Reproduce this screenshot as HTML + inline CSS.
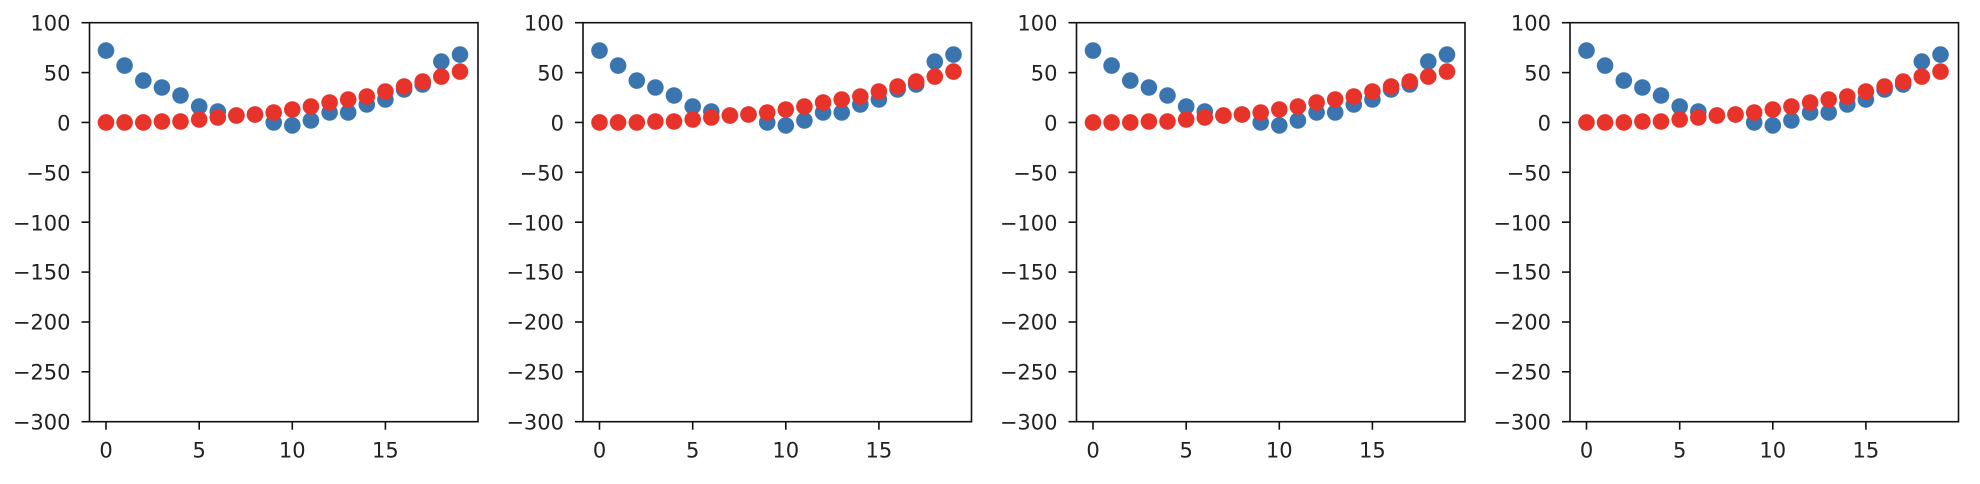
<!DOCTYPE html>
<html><head><meta charset="utf-8"><style>
html,body{margin:0;padding:0;background:#fff;}
svg{display:block;}
text{font-family:"DejaVu Sans","Liberation Sans",sans-serif;font-size:21px;fill:#222;}
.b{fill:#3a75b0;}
.r{fill:#e8332a;}
</style></head><body>
<svg width="1980" height="484" viewBox="0 0 1980 484" xmlns="http://www.w3.org/2000/svg">
<g transform="translate(89.5,22.7)">
<rect x="0" y="0" width="388.5" height="399" fill="none" stroke="#111" stroke-width="1.6"/>
<g stroke="#111" stroke-width="1.6">
<line x1="-8" y1="0" x2="0" y2="0"/><line x1="-8" y1="49.9" x2="0" y2="49.9"/><line x1="-8" y1="99.75" x2="0" y2="99.75"/><line x1="-8" y1="149.6" x2="0" y2="149.6"/><line x1="-8" y1="199.5" x2="0" y2="199.5"/><line x1="-8" y1="249.4" x2="0" y2="249.4"/><line x1="-8" y1="299.3" x2="0" y2="299.3"/><line x1="-8" y1="349.1" x2="0" y2="349.1"/><line x1="-8" y1="399" x2="0" y2="399"/>
<line x1="16.5" y1="399" x2="16.5" y2="407"/><line x1="109.7" y1="399" x2="109.7" y2="407"/><line x1="202.8" y1="399" x2="202.8" y2="407"/><line x1="295.9" y1="399" x2="295.9" y2="407"/>
</g>
<g text-anchor="end">
<text x="-19" y="8">100</text><text x="-19" y="58">50</text><text x="-19" y="108">0</text><text x="-19" y="158">−50</text><text x="-19" y="208">−100</text><text x="-19" y="257">−150</text><text x="-19" y="307">−200</text><text x="-19" y="357">−250</text><text x="-19" y="407">−300</text>
</g>
<g text-anchor="middle">
<text x="16.5" y="435">0</text><text x="109.7" y="435">5</text><text x="202.8" y="435">10</text><text x="295.9" y="435">15</text>
</g>
<g class="b">
<circle cx="16.5" cy="27.9" r="8.3"/><circle cx="35.1" cy="42.9" r="8.3"/><circle cx="53.8" cy="57.9" r="8.3"/><circle cx="72.4" cy="64.8" r="8.3"/><circle cx="91.0" cy="72.8" r="8.3"/><circle cx="109.7" cy="83.8" r="8.3"/><circle cx="128.3" cy="88.8" r="8.3"/><circle cx="146.9" cy="92.8" r="8.3"/><circle cx="165.5" cy="91.8" r="8.3"/><circle cx="184.2" cy="99.75" r="8.3"/><circle cx="202.8" cy="102.7" r="8.3"/><circle cx="221.4" cy="97.8" r="8.3"/><circle cx="240.1" cy="89.8" r="8.3"/><circle cx="258.7" cy="89.8" r="8.3"/><circle cx="277.3" cy="81.8" r="8.3"/><circle cx="295.9" cy="76.8" r="8.3"/><circle cx="314.6" cy="66.8" r="8.3"/><circle cx="333.2" cy="61.8" r="8.3"/><circle cx="351.8" cy="38.9" r="8.3"/><circle cx="370.5" cy="31.9" r="8.3"/>
</g>
<g class="r">
<circle cx="16.5" cy="99.75" r="8.3"/><circle cx="35.1" cy="99.75" r="8.3"/><circle cx="53.8" cy="99.75" r="8.3"/><circle cx="72.4" cy="98.8" r="8.3"/><circle cx="91.0" cy="98.8" r="8.3"/><circle cx="109.7" cy="96.8" r="8.3"/><circle cx="128.3" cy="94.8" r="8.3"/><circle cx="146.9" cy="92.8" r="8.3"/><circle cx="165.5" cy="91.8" r="8.3"/><circle cx="184.2" cy="89.8" r="8.3"/><circle cx="202.8" cy="86.8" r="8.3"/><circle cx="221.4" cy="83.8" r="8.3"/><circle cx="240.1" cy="79.8" r="8.3"/><circle cx="258.7" cy="76.8" r="8.3"/><circle cx="277.3" cy="73.8" r="8.3"/><circle cx="295.9" cy="68.8" r="8.3"/><circle cx="314.6" cy="63.8" r="8.3"/><circle cx="333.2" cy="58.9" r="8.3"/><circle cx="351.8" cy="53.9" r="8.3"/><circle cx="370.5" cy="48.9" r="8.3"/>
</g>
</g>
<g transform="translate(583,22.7)">
<rect x="0" y="0" width="388.5" height="399" fill="none" stroke="#111" stroke-width="1.6"/>
<g stroke="#111" stroke-width="1.6">
<line x1="-8" y1="0" x2="0" y2="0"/><line x1="-8" y1="49.9" x2="0" y2="49.9"/><line x1="-8" y1="99.75" x2="0" y2="99.75"/><line x1="-8" y1="149.6" x2="0" y2="149.6"/><line x1="-8" y1="199.5" x2="0" y2="199.5"/><line x1="-8" y1="249.4" x2="0" y2="249.4"/><line x1="-8" y1="299.3" x2="0" y2="299.3"/><line x1="-8" y1="349.1" x2="0" y2="349.1"/><line x1="-8" y1="399" x2="0" y2="399"/>
<line x1="16.5" y1="399" x2="16.5" y2="407"/><line x1="109.7" y1="399" x2="109.7" y2="407"/><line x1="202.8" y1="399" x2="202.8" y2="407"/><line x1="295.9" y1="399" x2="295.9" y2="407"/>
</g>
<g text-anchor="end">
<text x="-19" y="8">100</text><text x="-19" y="58">50</text><text x="-19" y="108">0</text><text x="-19" y="158">−50</text><text x="-19" y="208">−100</text><text x="-19" y="257">−150</text><text x="-19" y="307">−200</text><text x="-19" y="357">−250</text><text x="-19" y="407">−300</text>
</g>
<g text-anchor="middle">
<text x="16.5" y="435">0</text><text x="109.7" y="435">5</text><text x="202.8" y="435">10</text><text x="295.9" y="435">15</text>
</g>
<g class="b">
<circle cx="16.5" cy="27.9" r="8.3"/><circle cx="35.1" cy="42.9" r="8.3"/><circle cx="53.8" cy="57.9" r="8.3"/><circle cx="72.4" cy="64.8" r="8.3"/><circle cx="91.0" cy="72.8" r="8.3"/><circle cx="109.7" cy="83.8" r="8.3"/><circle cx="128.3" cy="88.8" r="8.3"/><circle cx="146.9" cy="92.8" r="8.3"/><circle cx="165.5" cy="91.8" r="8.3"/><circle cx="184.2" cy="99.75" r="8.3"/><circle cx="202.8" cy="102.7" r="8.3"/><circle cx="221.4" cy="97.8" r="8.3"/><circle cx="240.1" cy="89.8" r="8.3"/><circle cx="258.7" cy="89.8" r="8.3"/><circle cx="277.3" cy="81.8" r="8.3"/><circle cx="295.9" cy="76.8" r="8.3"/><circle cx="314.6" cy="66.8" r="8.3"/><circle cx="333.2" cy="61.8" r="8.3"/><circle cx="351.8" cy="38.9" r="8.3"/><circle cx="370.5" cy="31.9" r="8.3"/>
</g>
<g class="r">
<circle cx="16.5" cy="99.75" r="8.3"/><circle cx="35.1" cy="99.75" r="8.3"/><circle cx="53.8" cy="99.75" r="8.3"/><circle cx="72.4" cy="98.8" r="8.3"/><circle cx="91.0" cy="98.8" r="8.3"/><circle cx="109.7" cy="96.8" r="8.3"/><circle cx="128.3" cy="94.8" r="8.3"/><circle cx="146.9" cy="92.8" r="8.3"/><circle cx="165.5" cy="91.8" r="8.3"/><circle cx="184.2" cy="89.8" r="8.3"/><circle cx="202.8" cy="86.8" r="8.3"/><circle cx="221.4" cy="83.8" r="8.3"/><circle cx="240.1" cy="79.8" r="8.3"/><circle cx="258.7" cy="76.8" r="8.3"/><circle cx="277.3" cy="73.8" r="8.3"/><circle cx="295.9" cy="68.8" r="8.3"/><circle cx="314.6" cy="63.8" r="8.3"/><circle cx="333.2" cy="58.9" r="8.3"/><circle cx="351.8" cy="53.9" r="8.3"/><circle cx="370.5" cy="48.9" r="8.3"/>
</g>
</g>
<g transform="translate(1076.5,22.7)">
<rect x="0" y="0" width="388.5" height="399" fill="none" stroke="#111" stroke-width="1.6"/>
<g stroke="#111" stroke-width="1.6">
<line x1="-8" y1="0" x2="0" y2="0"/><line x1="-8" y1="49.9" x2="0" y2="49.9"/><line x1="-8" y1="99.75" x2="0" y2="99.75"/><line x1="-8" y1="149.6" x2="0" y2="149.6"/><line x1="-8" y1="199.5" x2="0" y2="199.5"/><line x1="-8" y1="249.4" x2="0" y2="249.4"/><line x1="-8" y1="299.3" x2="0" y2="299.3"/><line x1="-8" y1="349.1" x2="0" y2="349.1"/><line x1="-8" y1="399" x2="0" y2="399"/>
<line x1="16.5" y1="399" x2="16.5" y2="407"/><line x1="109.7" y1="399" x2="109.7" y2="407"/><line x1="202.8" y1="399" x2="202.8" y2="407"/><line x1="295.9" y1="399" x2="295.9" y2="407"/>
</g>
<g text-anchor="end">
<text x="-19" y="8">100</text><text x="-19" y="58">50</text><text x="-19" y="108">0</text><text x="-19" y="158">−50</text><text x="-19" y="208">−100</text><text x="-19" y="257">−150</text><text x="-19" y="307">−200</text><text x="-19" y="357">−250</text><text x="-19" y="407">−300</text>
</g>
<g text-anchor="middle">
<text x="16.5" y="435">0</text><text x="109.7" y="435">5</text><text x="202.8" y="435">10</text><text x="295.9" y="435">15</text>
</g>
<g class="b">
<circle cx="16.5" cy="27.9" r="8.3"/><circle cx="35.1" cy="42.9" r="8.3"/><circle cx="53.8" cy="57.9" r="8.3"/><circle cx="72.4" cy="64.8" r="8.3"/><circle cx="91.0" cy="72.8" r="8.3"/><circle cx="109.7" cy="83.8" r="8.3"/><circle cx="128.3" cy="88.8" r="8.3"/><circle cx="146.9" cy="92.8" r="8.3"/><circle cx="165.5" cy="91.8" r="8.3"/><circle cx="184.2" cy="99.75" r="8.3"/><circle cx="202.8" cy="102.7" r="8.3"/><circle cx="221.4" cy="97.8" r="8.3"/><circle cx="240.1" cy="89.8" r="8.3"/><circle cx="258.7" cy="89.8" r="8.3"/><circle cx="277.3" cy="81.8" r="8.3"/><circle cx="295.9" cy="76.8" r="8.3"/><circle cx="314.6" cy="66.8" r="8.3"/><circle cx="333.2" cy="61.8" r="8.3"/><circle cx="351.8" cy="38.9" r="8.3"/><circle cx="370.5" cy="31.9" r="8.3"/>
</g>
<g class="r">
<circle cx="16.5" cy="99.75" r="8.3"/><circle cx="35.1" cy="99.75" r="8.3"/><circle cx="53.8" cy="99.75" r="8.3"/><circle cx="72.4" cy="98.8" r="8.3"/><circle cx="91.0" cy="98.8" r="8.3"/><circle cx="109.7" cy="96.8" r="8.3"/><circle cx="128.3" cy="94.8" r="8.3"/><circle cx="146.9" cy="92.8" r="8.3"/><circle cx="165.5" cy="91.8" r="8.3"/><circle cx="184.2" cy="89.8" r="8.3"/><circle cx="202.8" cy="86.8" r="8.3"/><circle cx="221.4" cy="83.8" r="8.3"/><circle cx="240.1" cy="79.8" r="8.3"/><circle cx="258.7" cy="76.8" r="8.3"/><circle cx="277.3" cy="73.8" r="8.3"/><circle cx="295.9" cy="68.8" r="8.3"/><circle cx="314.6" cy="63.8" r="8.3"/><circle cx="333.2" cy="58.9" r="8.3"/><circle cx="351.8" cy="53.9" r="8.3"/><circle cx="370.5" cy="48.9" r="8.3"/>
</g>
</g>
<g transform="translate(1570,22.7)">
<rect x="0" y="0" width="388.5" height="399" fill="none" stroke="#111" stroke-width="1.6"/>
<g stroke="#111" stroke-width="1.6">
<line x1="-8" y1="0" x2="0" y2="0"/><line x1="-8" y1="49.9" x2="0" y2="49.9"/><line x1="-8" y1="99.75" x2="0" y2="99.75"/><line x1="-8" y1="149.6" x2="0" y2="149.6"/><line x1="-8" y1="199.5" x2="0" y2="199.5"/><line x1="-8" y1="249.4" x2="0" y2="249.4"/><line x1="-8" y1="299.3" x2="0" y2="299.3"/><line x1="-8" y1="349.1" x2="0" y2="349.1"/><line x1="-8" y1="399" x2="0" y2="399"/>
<line x1="16.5" y1="399" x2="16.5" y2="407"/><line x1="109.7" y1="399" x2="109.7" y2="407"/><line x1="202.8" y1="399" x2="202.8" y2="407"/><line x1="295.9" y1="399" x2="295.9" y2="407"/>
</g>
<g text-anchor="end">
<text x="-19" y="8">100</text><text x="-19" y="58">50</text><text x="-19" y="108">0</text><text x="-19" y="158">−50</text><text x="-19" y="208">−100</text><text x="-19" y="257">−150</text><text x="-19" y="307">−200</text><text x="-19" y="357">−250</text><text x="-19" y="407">−300</text>
</g>
<g text-anchor="middle">
<text x="16.5" y="435">0</text><text x="109.7" y="435">5</text><text x="202.8" y="435">10</text><text x="295.9" y="435">15</text>
</g>
<g class="b">
<circle cx="16.5" cy="27.9" r="8.3"/><circle cx="35.1" cy="42.9" r="8.3"/><circle cx="53.8" cy="57.9" r="8.3"/><circle cx="72.4" cy="64.8" r="8.3"/><circle cx="91.0" cy="72.8" r="8.3"/><circle cx="109.7" cy="83.8" r="8.3"/><circle cx="128.3" cy="88.8" r="8.3"/><circle cx="146.9" cy="92.8" r="8.3"/><circle cx="165.5" cy="91.8" r="8.3"/><circle cx="184.2" cy="99.75" r="8.3"/><circle cx="202.8" cy="102.7" r="8.3"/><circle cx="221.4" cy="97.8" r="8.3"/><circle cx="240.1" cy="89.8" r="8.3"/><circle cx="258.7" cy="89.8" r="8.3"/><circle cx="277.3" cy="81.8" r="8.3"/><circle cx="295.9" cy="76.8" r="8.3"/><circle cx="314.6" cy="66.8" r="8.3"/><circle cx="333.2" cy="61.8" r="8.3"/><circle cx="351.8" cy="38.9" r="8.3"/><circle cx="370.5" cy="31.9" r="8.3"/>
</g>
<g class="r">
<circle cx="16.5" cy="99.75" r="8.3"/><circle cx="35.1" cy="99.75" r="8.3"/><circle cx="53.8" cy="99.75" r="8.3"/><circle cx="72.4" cy="98.8" r="8.3"/><circle cx="91.0" cy="98.8" r="8.3"/><circle cx="109.7" cy="96.8" r="8.3"/><circle cx="128.3" cy="94.8" r="8.3"/><circle cx="146.9" cy="92.8" r="8.3"/><circle cx="165.5" cy="91.8" r="8.3"/><circle cx="184.2" cy="89.8" r="8.3"/><circle cx="202.8" cy="86.8" r="8.3"/><circle cx="221.4" cy="83.8" r="8.3"/><circle cx="240.1" cy="79.8" r="8.3"/><circle cx="258.7" cy="76.8" r="8.3"/><circle cx="277.3" cy="73.8" r="8.3"/><circle cx="295.9" cy="68.8" r="8.3"/><circle cx="314.6" cy="63.8" r="8.3"/><circle cx="333.2" cy="58.9" r="8.3"/><circle cx="351.8" cy="53.9" r="8.3"/><circle cx="370.5" cy="48.9" r="8.3"/>
</g>
</g>
</svg>
</body></html>
